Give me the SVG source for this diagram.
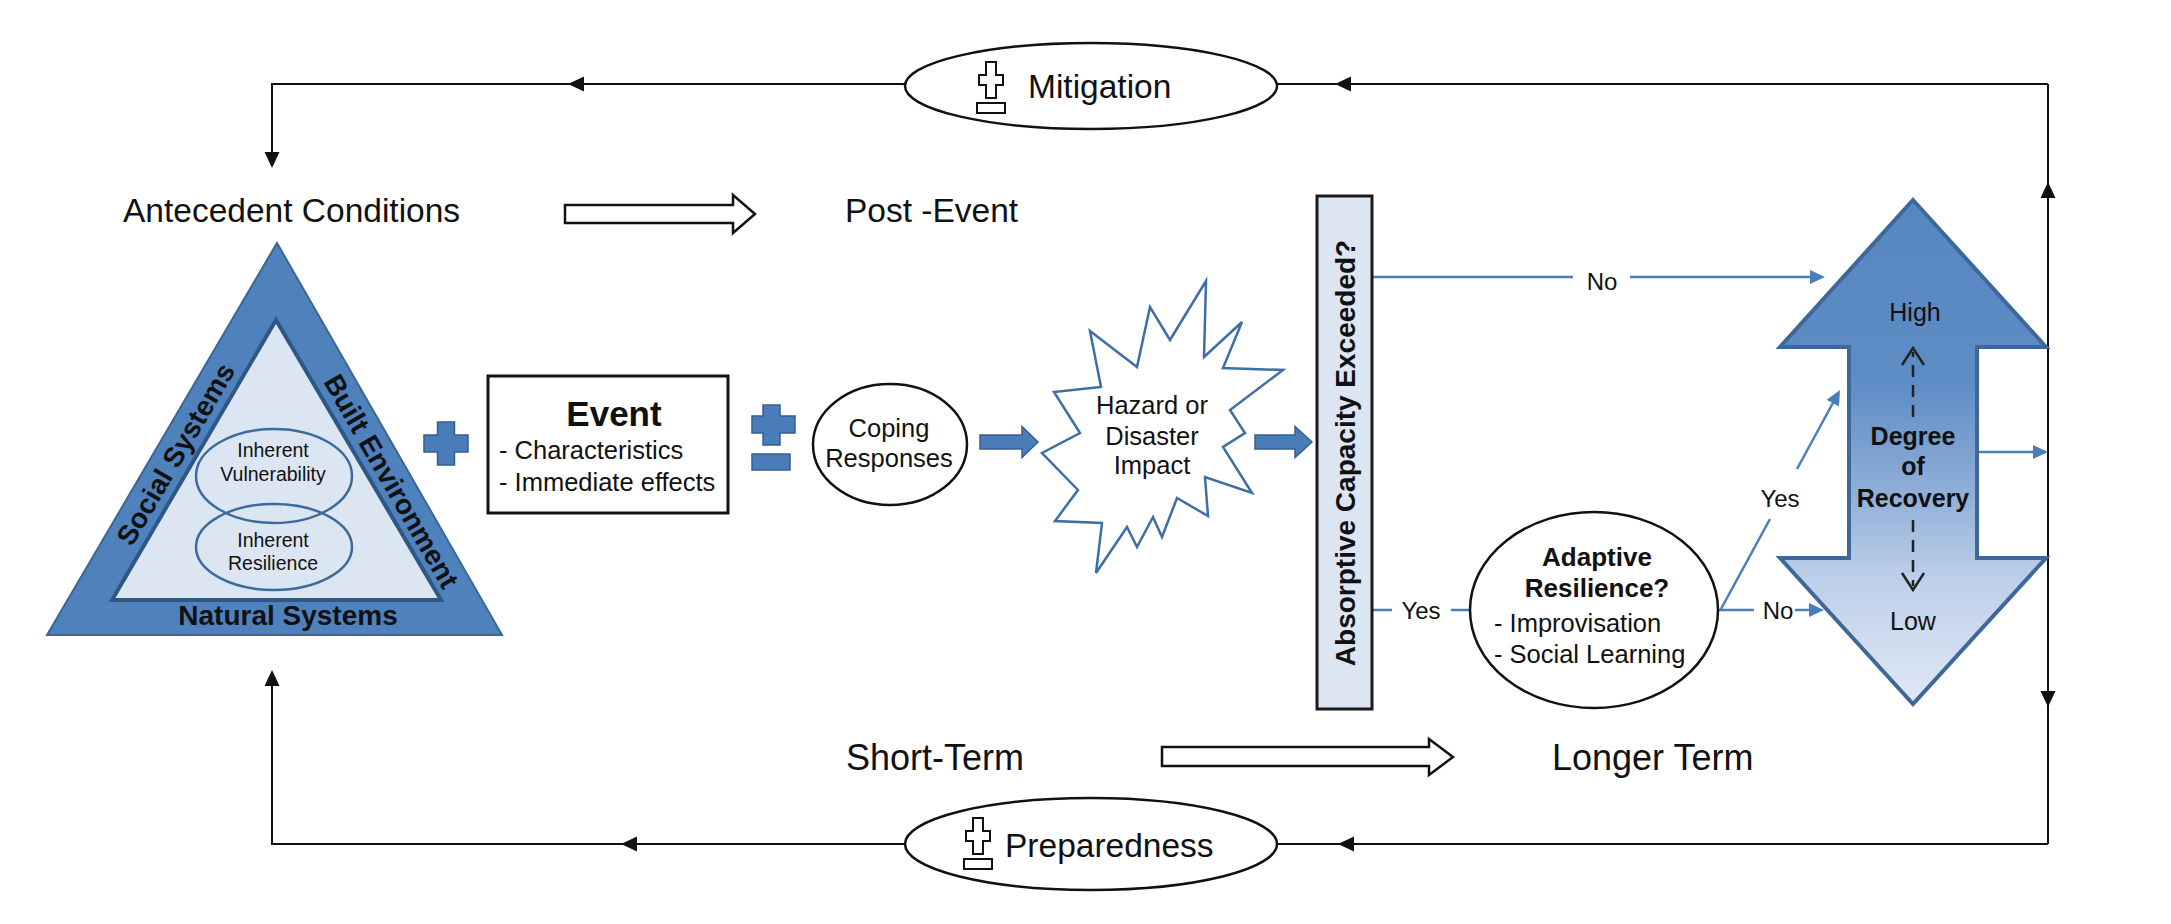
<svg xmlns="http://www.w3.org/2000/svg" xmlns:xlink="http://www.w3.org/1999/xlink" width="2171" height="924" viewBox="0 0 2171 924">
<style>
.t{font-family:"Liberation Sans",Arial,Helvetica,sans-serif;fill:#111}
.b{font-weight:bold}
.m{text-anchor:middle}
.blk{stroke:#111;stroke-width:2;fill:none}
.blu{stroke:#4a7ebb;stroke-width:2.5;fill:none}
.ell{fill:#fff;stroke:#111;stroke-width:2.5}
.bshape{fill:#4a7cb9;stroke:#34608f;stroke-width:1.5}
.hollow{fill:#fff;stroke:#111;stroke-width:2.5}
.icon{fill:#fff;stroke:#111;stroke-width:2}
.dash{stroke:#222;stroke-width:2.5;stroke-dasharray:12 8;fill:none}
.chev{stroke:#222;stroke-width:2.5;fill:none}
</style>
<defs>
<path id="ahk" d="M0,0 L-16,-7.5 L-16,7.5 Z" fill="#111"/>
<path id="ahb" d="M0,0 L-15,-7 L-15,7 Z" fill="#4a7ebb"/>
<g id="pm">
<path class="icon" d="M9,0 H19 V13 H26 V23 H19 V36 H9 V23 H2 V13 H9 Z"/>
<rect class="icon" x="0" y="41" width="28" height="10"/>
</g>
<linearGradient id="grad" x1="0" y1="0" x2="0" y2="1">
<stop offset="0" stop-color="#5787c1"/>
<stop offset="0.36" stop-color="#5e8cc5"/>
<stop offset="0.56" stop-color="#8aabd6"/>
<stop offset="0.76" stop-color="#bfd0ea"/>
<stop offset="1" stop-color="#e0e8f5"/>
</linearGradient>
</defs>
<rect width="2171" height="924" fill="#fff"/>

<g id="connectors">
<path class="blk" d="M905,84 H272 V154"/>
<path class="blk" d="M2048,84 H1277"/>
<path class="blk" d="M2048,84 V844"/>
<path class="blk" d="M2048,844 H1277"/>
<path class="blk" d="M905,844 H272 V684"/>
<use xlink:href="#ahk" transform="translate(568,84) rotate(180)"/>
<use xlink:href="#ahk" transform="translate(1335,84) rotate(180)"/>
<use xlink:href="#ahk" transform="translate(272,168) rotate(90)"/>
<use xlink:href="#ahk" transform="translate(2048,182) rotate(-90)"/>
<use xlink:href="#ahk" transform="translate(2048,707) rotate(90)"/>
<use xlink:href="#ahk" transform="translate(1338,844) rotate(180)"/>
<use xlink:href="#ahk" transform="translate(621,844) rotate(180)"/>
<use xlink:href="#ahk" transform="translate(272,670) rotate(-90)"/>
<path class="bshape" d="M980,435 H1022 V426.5 L1038,442 L1022,457.5 V449 H980 Z"/>
<path class="bshape" d="M1255,435 H1295 V426.5 L1312,442 L1295,457.5 V449 H1255 Z"/>
<path class="blu" d="M1372,277 H1573 M1630,277 H1812"/>
<use xlink:href="#ahb" transform="translate(1825,277)"/>
<text class="t m" x="1602" y="290" font-size="24">No</text>
<path class="blu" d="M1372,610 H1392 M1451,610 H1470"/>
<text class="t m" x="1421" y="619" font-size="24">Yes</text>
<path class="blu" d="M1719,610 H1754 M1795,610 H1811"/>
<use xlink:href="#ahb" transform="translate(1824,610)"/>
<text class="t m" x="1778" y="619" font-size="24">No</text>
<path class="blu" d="M1721,609 L1770,519 M1797,469 L1834,401"/>
<use xlink:href="#ahb" transform="translate(1840,390) rotate(-61.5)"/>
<text class="t m" x="1780" y="507" font-size="24">Yes</text>
<path class="blu" d="M1977,452 H2035"/>
<use xlink:href="#ahb" transform="translate(2048,452)"/>
</g>

<g id="timeline">
<text class="t" x="123" y="222" font-size="33.5">Antecedent Conditions</text>
<path class="hollow" d="M565,205 H733 V195 L755,214 L733,233 V223 H565 Z"/>
<text class="t" x="845" y="222" font-size="33.5">Post -Event</text>
<text class="t" x="846" y="770" font-size="36">Short-Term</text>
<path class="hollow" d="M1162,747 H1429 V739 L1453,757 L1429,775 V766 H1162 Z"/>
<text class="t" x="1552" y="770" font-size="36">Longer Term</text>
</g>

<g id="mitigation">
<ellipse class="ell" cx="1091" cy="86" rx="186" ry="43"/>
<use xlink:href="#pm" transform="translate(977,62)"/>
<text class="t" x="1028" y="98" font-size="33.5">Mitigation</text>
</g>

<g id="preparedness">
<ellipse class="ell" cx="1091" cy="844" rx="186" ry="46"/>
<use xlink:href="#pm" transform="translate(964,818)"/>
<text class="t" x="1005" y="857" font-size="33.5">Preparedness</text>
</g>

<g id="antecedent-triangle">
<polygon points="277,243 502,635 47,635" fill="#4f81bd" stroke="#3c6795" stroke-width="2"/>
<polygon points="276,320 441,600 112,600" fill="#dce6f2" stroke="#2f5785" stroke-width="4"/>
<ellipse cx="274" cy="476" rx="78" ry="47" fill="none" stroke="#3d6a9c" stroke-width="2.5"/>
<ellipse cx="274" cy="547" rx="78" ry="43" fill="none" stroke="#3d6a9c" stroke-width="2.5"/>
<text class="t m" x="273" y="457" font-size="19.5">Inherent</text>
<text class="t m" x="273" y="481" font-size="19.5">Vulnerability</text>
<text class="t m" x="273" y="547" font-size="19.5">Inherent</text>
<text class="t m" x="273" y="570" font-size="19.5">Resilience</text>
<text class="t b m" x="288" y="625" font-size="28">Natural Systems</text>
<text class="t b m" font-size="28" transform="translate(184,459) rotate(-59.6)">Social Systems</text>
<text class="t b m" font-size="28" transform="translate(383,486) rotate(60.1)">Built Environment</text>
</g>

<g id="plus1">
<path class="bshape" d="M437.5,422 H454.5 V435 H468 V452 H454.5 V465 H437.5 V452 H424 V435 H437.5 Z"/>
</g>

<g id="event">
<rect x="488" y="376" width="240" height="137" fill="#fff" stroke="#111" stroke-width="3"/>
<text class="t b m" x="614" y="426" font-size="35">Event</text>
<text class="t" x="499" y="459" font-size="25.5">- Characteristics</text>
<text class="t" x="499" y="491" font-size="25.5">- Immediate effects</text>
</g>

<g id="plusminus">
<path class="bshape" d="M763,405 H780 V416 H795 V433 H780 V445 H763 V433 H752 V416 H763 Z"/>
<rect class="bshape" x="752" y="454" width="38" height="16"/>
</g>

<g id="coping">
<ellipse class="ell" cx="890" cy="444.5" rx="77" ry="60.5"/>
<text class="t m" x="889" y="437" font-size="25.5">Coping</text>
<text class="t m" x="889" y="467" font-size="25.5">Responses</text>
</g>

<g id="hazard">
<polygon points="1206,281 1204,357 1242,322 1223,368 1283,370 1230,410 1245,433 1223,447 1252,493 1205,477 1208,516 1177,498 1162,537 1153,517 1137,547 1127,527 1096,573 1102,523 1055,521 1078,490 1042,453 1080,433 1054,392 1101,387 1090,331 1137,367 1150,307 1170,340" fill="#fff" stroke="#3d6ea5" stroke-width="2.5" stroke-linejoin="miter"/>
<text class="t m" x="1152" y="414" font-size="25.5">Hazard or</text>
<text class="t m" x="1152" y="445" font-size="25.5">Disaster</text>
<text class="t m" x="1152" y="474" font-size="25.5">Impact</text>
</g>

<g id="absorptive">
<rect x="1317" y="196" width="55" height="513" fill="#dce6f2" stroke="#1a1a1a" stroke-width="3"/>
<text class="t b m" font-size="28" transform="translate(1355,453) rotate(-90)">Absorptive Capacity Exceeded?</text>
</g>

<g id="adaptive">
<ellipse class="ell" cx="1594" cy="610" rx="124" ry="98"/>
<text class="t b m" x="1597" y="566" font-size="26">Adaptive</text>
<text class="t b m" x="1597" y="597" font-size="26">Resilience?</text>
<text class="t" x="1494" y="632" font-size="25.5">- Improvisation</text>
<text class="t" x="1494" y="663" font-size="25.5">- Social Learning</text>
</g>

<g id="recovery">
<path d="M1913,200 L2046,347 H1977 V558 H2046 L1913,704 L1780,558 H1849 V347 H1780 Z" fill="url(#grad)" stroke="#3d6898" stroke-width="4" stroke-linejoin="miter"/>
<text class="t m" x="1915" y="321" font-size="25">High</text>
<path class="dash" d="M1913,417 V352"/>
<path class="chev" d="M1902,365 L1913,348 L1924,365"/>
<text class="t b m" x="1913" y="445" font-size="25">Degree</text>
<text class="t b m" x="1913" y="475" font-size="25">of</text>
<text class="t b m" x="1913" y="507" font-size="25">Recovery</text>
<path class="dash" d="M1913,520 V586"/>
<path class="chev" d="M1902,573 L1913,590 L1924,573"/>
<text class="t m" x="1913" y="630" font-size="25">Low</text>
</g>
</svg>
